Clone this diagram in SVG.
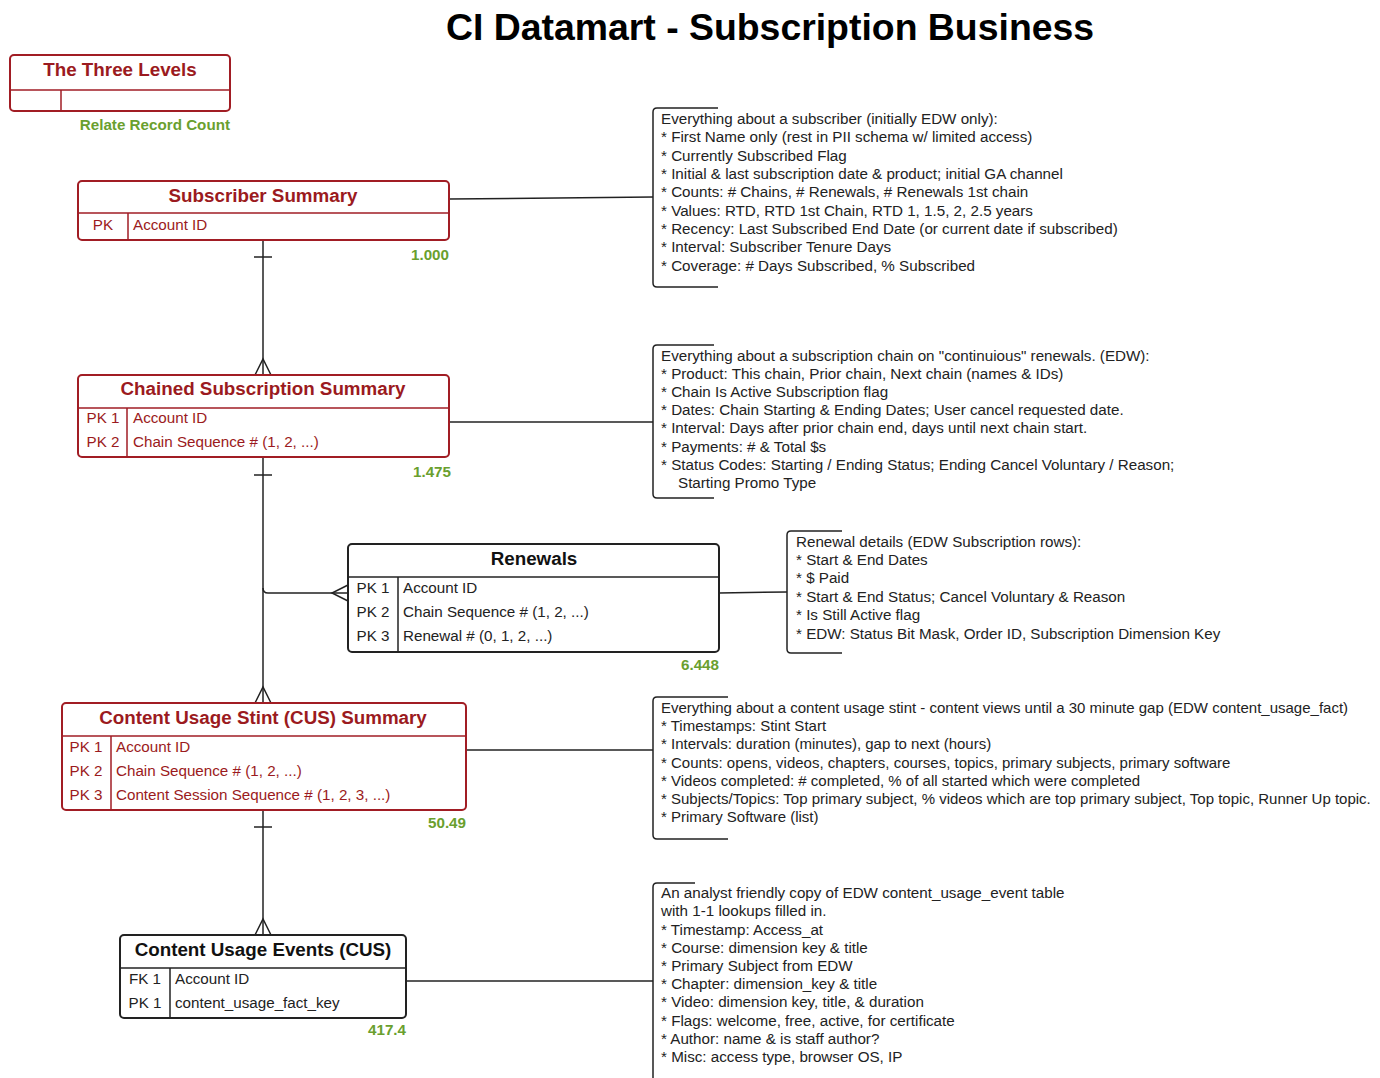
<svg xmlns="http://www.w3.org/2000/svg" width="1380" height="1078" viewBox="0 0 1380 1078">
<style>
text{font-family:"Liberation Sans",Arial,sans-serif}
.title{font-size:37.4px;font-weight:bold;fill:#000}
.box{fill:#fff;stroke-width:2}
.red{stroke:#a11d24}
.blk{stroke:#222}
.div{stroke-width:1.5;fill:none}
.hr{font-size:18.8px;font-weight:bold;fill:#9b1a20;text-anchor:middle}
.hb{font-size:18.8px;font-weight:bold;fill:#111;text-anchor:middle}
.fr{font-size:15.2px;fill:#9b1a20}
.fb{font-size:15.2px;fill:#222}
.cnt{font-size:15.2px;font-weight:bold;fill:#6a9f2e;text-anchor:end}
.note{font-size:15.2px;fill:#222}
.note2{font-size:15px;fill:#222}
.ln{stroke:#222;stroke-width:1.5;fill:none}
</style>
<rect width="1380" height="1078" fill="#fff"/>
<text class="title" x="770" y="40" text-anchor="middle">CI Datamart - Subscription Business</text>

<g id="legend">
<rect class="box red" x="10" y="55" width="220" height="56" rx="4"/>
<line class="div red" x1="10" y1="90" x2="230" y2="90"/>
<line class="div red" x1="61" y1="90" x2="61" y2="111"/>
<text class="hr" x="120" y="76">The Three Levels</text>
<text class="cnt" x="230" y="130">Relate Record Count</text>
</g>

<g id="connectors">
<line class="ln" x1="263" y1="240" x2="263" y2="375"/>
<line class="ln" x1="254" y1="257" x2="272" y2="257"/>
<polyline class="ln" points="255,375 263,359 271,375"/>
<line class="ln" x1="263" y1="457" x2="263" y2="703"/>
<line class="ln" x1="254" y1="475" x2="272" y2="475"/>
<path class="ln" d="M263,588 Q263,593 268,593 L348,593"/>
<polyline class="ln" points="348,585 332,593 348,601"/>
<polyline class="ln" points="255,703 263,687 271,703"/>
<line class="ln" x1="263" y1="810" x2="263" y2="935"/>
<line class="ln" x1="254" y1="827" x2="272" y2="827"/>
<polyline class="ln" points="255,935 263,919 271,935"/>
<line class="ln" x1="449" y1="199" x2="653" y2="197"/>
<line class="ln" x1="449" y1="422" x2="653" y2="422"/>
<line class="ln" x1="719" y1="593" x2="787" y2="592"/>
<line class="ln" x1="466" y1="750" x2="653" y2="750"/>
<line class="ln" x1="406" y1="981" x2="653" y2="981"/>
</g>

<g id="subscriber-summary">
<rect class="box red" x="78" y="181" width="371" height="59" rx="4"/>
<line class="div red" x1="78" y1="213" x2="449" y2="213"/>
<line class="div red" x1="128" y1="213" x2="128" y2="240"/>
<text class="hr" x="263" y="202">Subscriber Summary</text>
<text class="fr" x="103" y="230" text-anchor="middle">PK</text>
<text class="fr" x="133" y="230">Account ID</text>
<text class="cnt" x="449" y="260">1.000</text>
</g>

<g id="chained-subscription-summary">
<rect class="box red" x="78" y="375" width="371" height="82" rx="4"/>
<line class="div red" x1="78" y1="408" x2="449" y2="408"/>
<line class="div red" x1="127" y1="408" x2="127" y2="457"/>
<text class="hr" x="263" y="395">Chained Subscription Summary</text>
<text class="fr" x="103" y="423" text-anchor="middle">PK 1</text>
<text class="fr" x="133" y="423">Account ID</text>
<text class="fr" x="103" y="447" text-anchor="middle">PK 2</text>
<text class="fr" x="133" y="447">Chain Sequence # (1, 2, ...)</text>
<text class="cnt" x="451" y="477">1.475</text>
</g>

<g id="renewals">
<rect class="box blk" x="348" y="544" width="371" height="108" rx="4"/>
<line class="div blk" x1="348" y1="577" x2="719" y2="577"/>
<line class="div blk" x1="398" y1="577" x2="398" y2="652"/>
<text class="hb" x="534" y="565">Renewals</text>
<text class="fb" x="373" y="593" text-anchor="middle">PK 1</text>
<text class="fb" x="403" y="593">Account ID</text>
<text class="fb" x="373" y="617" text-anchor="middle">PK 2</text>
<text class="fb" x="403" y="617">Chain Sequence # (1, 2, ...)</text>
<text class="fb" x="373" y="641" text-anchor="middle">PK 3</text>
<text class="fb" x="403" y="641">Renewal # (0, 1, 2, ...)</text>
<text class="cnt" x="719" y="670">6.448</text>
</g>

<g id="content-usage-stint-summary">
<rect class="box red" x="62" y="703" width="404" height="107" rx="4"/>
<line class="div red" x1="62" y1="736" x2="466" y2="736"/>
<line class="div red" x1="111" y1="736" x2="111" y2="810"/>
<text class="hr" x="263" y="724">Content Usage Stint (CUS) Summary</text>
<text class="fr" x="86" y="752" text-anchor="middle">PK 1</text>
<text class="fr" x="116" y="752">Account ID</text>
<text class="fr" x="86" y="776" text-anchor="middle">PK 2</text>
<text class="fr" x="116" y="776">Chain Sequence # (1, 2, ...)</text>
<text class="fr" x="86" y="800" text-anchor="middle">PK 3</text>
<text class="fr" x="116" y="800">Content Session Sequence # (1, 2, 3, ...)</text>
<text class="cnt" x="466" y="828">50.49</text>
</g>

<g id="content-usage-events">
<rect class="box blk" x="120" y="935" width="286" height="83" rx="4"/>
<line class="div blk" x1="120" y1="968" x2="406" y2="968"/>
<line class="div blk" x1="170" y1="968" x2="170" y2="1018"/>
<text class="hb" x="263" y="956">Content Usage Events (CUS)</text>
<text class="fb" x="145" y="984" text-anchor="middle">FK 1</text>
<text class="fb" x="175" y="984">Account ID</text>
<text class="fb" x="145" y="1008" text-anchor="middle">PK 1</text>
<text class="fb" x="175" y="1008">content_usage_fact_key</text>
<text class="cnt" x="406" y="1035">417.4</text>
</g>

<g id="note-subscriber">
<path class="ln" d="M718,108 L657,108 Q653,108 653,112 L653,283 Q653,287 657,287 L718,287"/>
<text class="note" x="661" y="124">Everything about a subscriber (initially EDW only):</text>
<text class="note" x="661" y="142">* First Name only (rest in PII schema w/ limited access)</text>
<text class="note" x="661" y="161">* Currently Subscribed Flag</text>
<text class="note" x="661" y="179">* Initial  &amp; last subscription date &amp; product; initial GA channel</text>
<text class="note" x="661" y="197">* Counts: # Chains, # Renewals, # Renewals 1st chain</text>
<text class="note" x="661" y="216">* Values: RTD, RTD 1st Chain, RTD 1, 1.5, 2, 2.5 years</text>
<text class="note" x="661" y="234">* Recency: Last Subscribed End Date (or current date if subscribed)</text>
<text class="note" x="661" y="252">* Interval: Subscriber Tenure Days</text>
<text class="note" x="661" y="271">* Coverage: # Days Subscribed, % Subscribed</text>
</g>

<g id="note-chain">
<path class="ln" d="M714,345 L657,345 Q653,345 653,349 L653,494 Q653,498 657,498 L714,498"/>
<text class="note" x="661" y="361">Everything about a subscription chain on "continuious" renewals. (EDW):</text>
<text class="note" x="661" y="379">* Product: This chain, Prior chain, Next chain (names &amp; IDs)</text>
<text class="note" x="661" y="397">* Chain Is Active Subscription flag</text>
<text class="note" x="661" y="415">* Dates: Chain Starting &amp; Ending Dates; User cancel requested date.</text>
<text class="note" x="661" y="433">* Interval: Days after prior chain end, days until next chain start.</text>
<text class="note" x="661" y="452">* Payments: #  &amp; Total $s</text>
<text class="note" x="661" y="470">* Status Codes: Starting / Ending Status; Ending Cancel Voluntary / Reason;</text>
<text class="note" x="678" y="488">Starting Promo Type</text>
</g>

<g id="note-renewals">
<path class="ln" d="M842,531 L791,531 Q787,531 787,535 L787,649 Q787,653 791,653 L842,653"/>
<text class="note" x="796" y="547">Renewal details (EDW Subscription rows):</text>
<text class="note" x="796" y="565">* Start &amp; End Dates</text>
<text class="note" x="796" y="583">* $ Paid</text>
<text class="note" x="796" y="602">* Start &amp; End Status; Cancel Voluntary &amp; Reason</text>
<text class="note" x="796" y="620">* Is Still Active flag</text>
<text class="note" x="796" y="639">* EDW: Status Bit Mask, Order ID, Subscription Dimension Key</text>
</g>

<g id="note-stint">
<path class="ln" d="M728,697 L657,697 Q653,697 653,701 L653,835 Q653,839 657,839 L728,839"/>
<text class="note2" x="661" y="713">Everything about a content usage stint - content views until a 30 minute gap (EDW content_usage_fact)</text>
<text class="note2" x="661" y="731">* Timestamps: Stint Start</text>
<text class="note2" x="661" y="749">* Intervals: duration (minutes), gap to next (hours)</text>
<text class="note2" x="661" y="768">* Counts: opens, videos, chapters, courses, topics, primary subjects, primary software</text>
<text class="note2" x="661" y="786">* Videos completed: # completed, % of all started which were completed</text>
<text class="note2" x="661" y="804">* Subjects/Topics: Top primary subject, % videos which are top primary subject, Top topic, Runner Up topic.</text>
<text class="note2" x="661" y="822">* Primary Software (list)</text>
</g>

<g id="note-events">
<path class="ln" d="M695,883 L657,883 Q653,883 653,887 L653,1078"/>
<text class="note" x="661" y="898">An analyst friendly copy of EDW content_usage_event table</text>
<text class="note" x="661" y="916">with 1-1 lookups filled in.</text>
<text class="note" x="661" y="935">* Timestamp: Access_at</text>
<text class="note" x="661" y="953">* Course: dimension  key &amp; title</text>
<text class="note" x="661" y="971">* Primary Subject from EDW</text>
<text class="note" x="661" y="989">* Chapter: dimension_key &amp; title</text>
<text class="note" x="661" y="1007">* Video: dimension key, title, &amp; duration</text>
<text class="note" x="661" y="1026">* Flags: welcome, free, active, for certificate</text>
<text class="note" x="661" y="1044">* Author: name &amp; is staff author?</text>
<text class="note" x="661" y="1062">* Misc: access type, browser OS, IP</text>
</g>
</svg>
